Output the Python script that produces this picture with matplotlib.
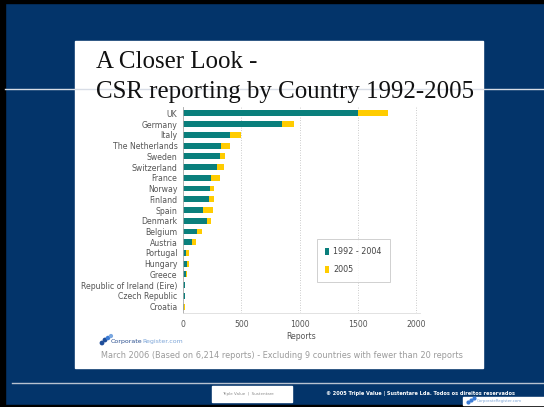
import matplotlib.pyplot as plt
from matplotlib.patches import Rectangle

# Reports per country, split by period
countries = ["UK", "Germany", "Italy", "The Netherlands", "Sweden", "Switzerland",
             "France", "Norway", "Finland", "Spain", "Denmark", "Belgium", "Austria",
             "Portugal", "Hungary", "Greece", "Republic of Ireland (Eire)",
             "Czech Republic", "Croatia"]
reports_1992_2004 = [1500, 845, 405, 328, 319, 293, 241, 233, 224, 172, 207, 121, 78,
                     26, 34, 25, 13, 15, 12]
reports_2005 = [260, 110, 95, 77, 43, 60, 78, 34, 43, 87, 34, 43, 34,
                26, 18, 8, 5, 3, 2]
xticks = [0, 500, 1000, 1500, 2000]

NAVY = "#03346a"
TEAL = "#0a7f7c"
YELLOW = "#ffcc00"
W, H = 544, 407

fig = plt.figure(figsize=(5.44, 4.07), dpi=100)
fig.patch.set_facecolor(NAVY)

# Slide background drawn in pixel coordinates
bg = fig.add_axes([0, 0, 1, 1], zorder=0)
bg.set_xlim(0, W)
bg.set_ylim(H, 0)
bg.axis("off")
bg.add_patch(Rectangle((0, 0), W, 3, color="black"))
bg.add_patch(Rectangle((0, 0), 5, H, color="black"))
bg.add_patch(Rectangle((0, 405), W, 2, color="black"))
bg.plot([5, W], [89, 89], color="#d8dde6", lw=1)
bg.plot([12, W], [383, 383], color="#b8c2d0", lw=1)
bg.add_patch(Rectangle((75, 41), 408, 327, color="white"))

bg.text(96, 62, "A Closer Look -", fontsize=17.9, family="Liberation Serif",
        va="center", ha="left", color="#111111")
bg.text(96, 92, "CSR reporting by Country 1992-2005", fontsize=17.9,
        family="Liberation Serif", va="center", ha="left", color="#111111")

# CorporateRegister logo
bg.scatter([102, 105, 108, 111], [343, 340, 338, 336], s=[6, 6, 5, 4],
           color=["#1f4e9a", "#1f4e9a", "#3a7bd5", "#7aa7e0"], zorder=3)
corp = bg.text(111, 341, "Corporate", fontsize=4.5, color="#2a4f8f",
               va="center", ha="left")
fig.canvas.draw()
ext = corp.get_window_extent()
bg.text(111 + ext.width, 341, "Register.com", fontsize=4.5, color="#7ea6d8",
        va="center", ha="left")
bg.text(101, 355, "March 2006 (Based on 6,214 reports) - Excluding 9 countries with fewer than 20 reports",
        fontsize=5.9, color="#9a9a9a", va="center", ha="left")

# Footer
bg.add_patch(Rectangle((212, 386), 80, 16, color="white"))
bg.text(222, 394, "Triple Value  |  Sustentare", fontsize=2.9, color="#8a8a8a",
        va="center", ha="left")
bg.text(326, 393, "\u00a9 2005 Triple Value | Sustentare Lda. Todos os direitos reservados",
        fontsize=3.6, color="white", fontweight="bold", va="center", ha="left")
bg.add_patch(Rectangle((463, 397), 81, 8, color="white"))
bg.scatter([468, 471, 474], [402, 400, 398], s=4, color="#3a7bd5", zorder=3)
bg.text(477, 401, "CorporateRegister.com", fontsize=2.8, color="#7ea6d8",
        va="center", ha="left")

# Bar chart
ax = fig.add_axes([183 / W, 1 - 313 / H, (420 - 183) / W, (313 - 107) / H], zorder=2)
ax.patch.set_alpha(0)
y = list(range(len(countries)))
ax.barh(y, reports_1992_2004, height=0.55, color=TEAL, label="1992 - 2004")
ax.barh(y, reports_2005, left=reports_1992_2004, height=0.55, color=YELLOW, label="2005")
ax.set_yticks(y)
ax.set_yticklabels(countries)
ax.set_ylim(len(countries) - 0.4, -0.6)
ax.set_xlim(0, 2030)
ax.set_xticks(xticks)
ax.set_xlabel("Reports", fontsize=5.6, color="#555555", labelpad=2)
ax.tick_params(axis="y", length=0, labelsize=5.6, labelcolor="#555555", pad=4)
ax.tick_params(axis="x", length=0, labelsize=5.6, labelcolor="#555555", pad=5)
ax.grid(axis="x", linestyle=(0, (1, 2)), color="#bbbbbb", lw=0.6)
ax.set_axisbelow(True)
for side in ["top", "right"]:
    ax.spines[side].set_visible(False)
ax.spines["left"].set_color("#aaaaaa")
ax.spines["left"].set_linewidth(0.6)
ax.spines["bottom"].set_color("#dddddd")
ax.spines["bottom"].set_linewidth(0.6)

leg = ax.legend(loc="upper left", bbox_to_anchor=(317 / W, 1 - 239 / H),
                bbox_transform=fig.transFigure, fontsize=5.8, frameon=True,
                fancybox=False, edgecolor="#bbbbbb", handlelength=0.5,
                handleheight=1.0, handletextpad=0.5, labelspacing=1.1,
                borderpad=1.0, borderaxespad=0)
leg.get_frame().set_linewidth(0.6)
for t in leg.get_texts():
    t.set_color("#444444")

fig.savefig("out.png", dpi=100, facecolor=NAVY)
